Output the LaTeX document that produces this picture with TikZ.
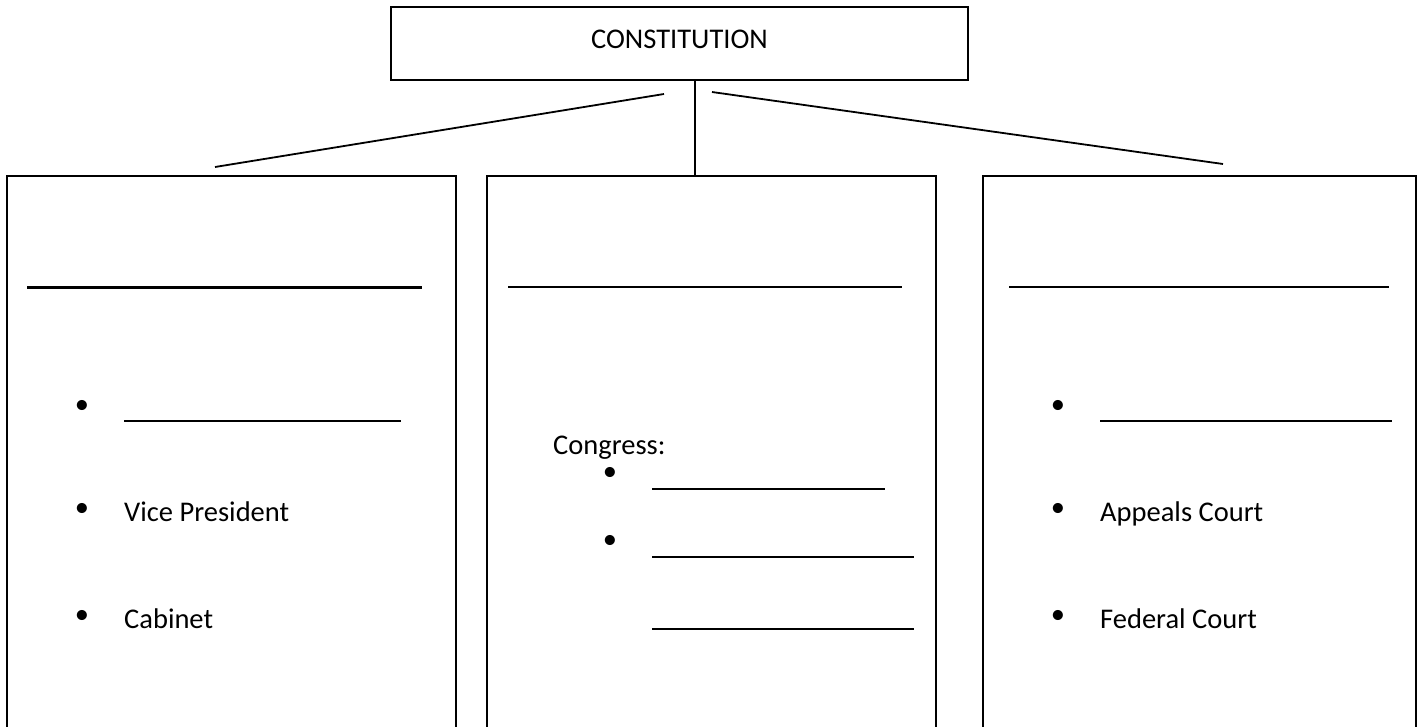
\documentclass[tikz,border=0pt]{standalone}
\usepackage{fontspec}
\setmainfont{Carlito}
\usetikzlibrary{positioning}

\begin{document}
\begin{tikzpicture}[x=1pt,y=-1pt,font=\fontsize{28.5}{34}\selectfont,
  branch/.style={draw,line width=1.5pt,minimum height=620pt,inner sep=0pt},
  link/.style={line width=1.8pt},
  blank/.style={line width=1.4pt},
  item/.style={anchor=base west,inner sep=0pt},
  dot/.style={anchor=center,inner sep=0pt}]
\useasboundingbox (0,0) rectangle (1421,726);
\clip (0,0) rectangle (1421,726);
% top box
\node[draw,line width=1.5pt,minimum width=577pt,minimum height=73pt] (con) at (679.5,43.5) {};
\node[anchor=base,inner sep=0pt] (contxt) at (679.5,48) {CONSTITUTION};
% the three branches
\node[branch,minimum width=449pt] (exe) at (231.5,486) {};
\node[branch,minimum width=449pt] (leg) at (711.5,486) {};
\node[branch,minimum width=433pt] (jud) at (1199.5,486) {};
% connectors
\coordinate (jl) at (664,94); \coordinate (el) at (215,167);
\coordinate (jr) at (712,92); \coordinate (er) at (1223,164);
\coordinate (jm) at (695,80);
\draw[link] (jl) -- (el);
\draw[link] (jr) -- (er);
\draw[line width=1.5pt] (jm) -- (jm |- leg.north);
% headings to fill in
\draw[line width=3pt] (27,287) -- (422,287);
\draw[blank] (508,287) -- (902,287);
\draw[blank] (1009,287) -- (1389,287);
% left branch
\node[dot] (e1) at (82,407) {\textbullet};
\draw[blank] (124,421) -- (401,421);
\node[dot] (e2) at (82,510) {\textbullet};
\node[item] (vp) at (124,521) {Vice President};
\node[dot] (e3) at (82,617) {\textbullet};
\node[item] (cab) at (124,628) {Cabinet};
% middle branch
\node[item] (cong) at (553,454) {Congress:};
\node[dot] (l1) at (610,474) {\textbullet};
\draw[blank] (652,489) -- (885,489);
\node[dot] (l2) at (610,542) {\textbullet};
\draw[blank] (652,557) -- (914,557);
\draw[blank] (652,629) -- (914,629);
% right branch
\node[dot] (j1) at (1058,407) {\textbullet};
\draw[blank] (1100,421) -- (1392,421);
\node[dot] (j2) at (1058,510) {\textbullet};
\node[item] (app) at (1100,521) {Appeals Court};
\node[dot] (j3) at (1058,617) {\textbullet};
\node[item] (fed) at (1100,628) {Federal Court};
\end{tikzpicture}
\end{document}
